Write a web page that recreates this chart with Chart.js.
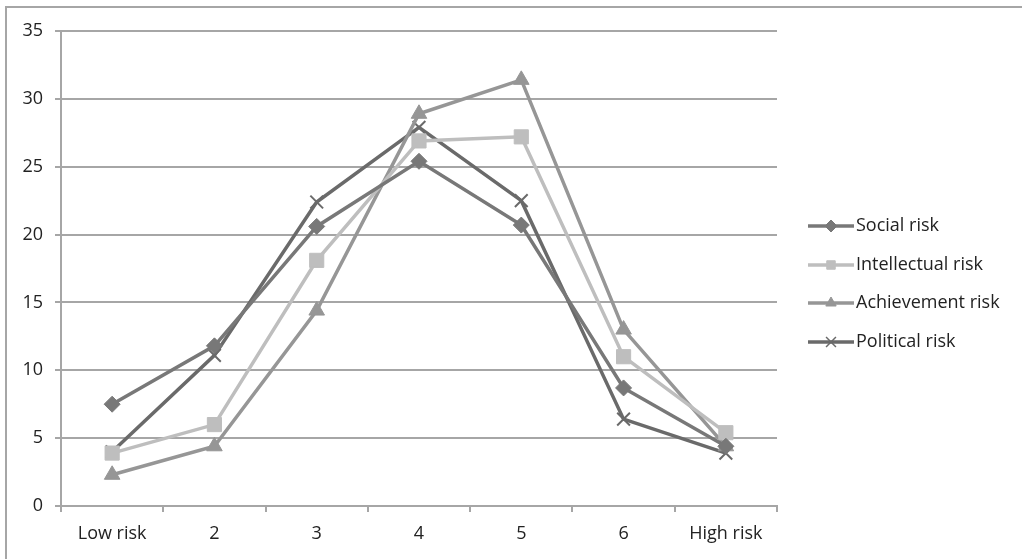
<!DOCTYPE html>
<html>
<head>
<meta charset="utf-8">
<script src="https://cdn.jsdelivr.net/npm/chart.js@4/dist/chart.umd.min.js"></script>
<style>
  html, body { margin: 0; padding: 0; background: #fff; }
  #wrap { position: relative; width: 1022px; height: 559px; }
  #frame { position: absolute; left: 5px; top: 6px; width: 1030px; height: 600px;
           border-left: 2px solid #a6a6a6; border-top: 2px solid #a6a6a6; }
  canvas { position: absolute; left: 0; top: 0; }
</style>
</head>
<body>
<div id="wrap">
  <div id="frame"></div>
  <canvas id="riskChart" width="1022" height="559"></canvas>
</div>
<script>
/* categories + series */
const categories = ['Low risk', '2', '3', '4', '5', '6', 'High risk'];

const socialRisk       = [7.5, 11.8, 20.6, 25.4, 20.7, 8.7, 4.4];
const intellectualRisk = [3.9, 6.0, 18.1, 26.9, 27.2, 11.0, 5.4];
const achievementRisk  = [2.3, 4.4, 14.4, 28.9, 31.4, 13.0, 4.4];
const politicalRisk    = [4.0, 11.1, 22.4, 27.9, 22.5, 6.4, 3.9];

const seriesNames = ['Social risk', 'Intellectual risk', 'Achievement risk', 'Political risk'];
const yTicks = [0, 5, 10, 15, 20, 25, 30, 35];

const FONT = '"Open Sans", sans-serif';
const FONT_SIZE = 18;
const TEXT = '#222222';
const GRID = '#a6a6a6';

function ds(label, data, color, style, radius) {
  return {
    label: label,
    data: data,
    borderColor: color,
    backgroundColor: color,
    pointBackgroundColor: color,
    pointBorderColor: color,
    borderWidth: 3.5,
    pointStyle: style,
    pointRadius: radius,
    pointHoverRadius: radius,
    pointBorderWidth: style === 'crossRot' ? 2 : 1,
    tension: 0,
    fill: false
  };
}

// legend drawn on the canvas: short line + marker + label, like the original
const sideLegend = {
  id: 'sideLegend',
  afterDraw(chart) {
    const c = chart.ctx;
    const rows = [226, 265, 303, 342];
    chart.data.datasets.forEach((d, i) => {
      const y = rows[i];
      c.save();
      c.strokeStyle = d.borderColor;
      c.fillStyle = d.borderColor;
      c.lineWidth = 3.5;
      c.beginPath();
      c.moveTo(808, y);
      c.lineTo(854, y);
      c.stroke();
      c.lineWidth = d.pointStyle === 'crossRot' ? 1.5 : 1;
      Chart.helpers.drawPoint(c, {
        pointStyle: d.pointStyle,
        radius: d.pointStyle === 'crossRot' ? 7 : 6,
        borderWidth: d.pointStyle === 'crossRot' ? 1.5 : 1,
        rotation: 0
      }, 831, y);
      c.fillStyle = TEXT;
      c.font = FONT_SIZE + 'px ' + FONT;
      c.textBaseline = 'middle';
      c.textAlign = 'left';
      c.fillText(d.label, 856, y);
      c.restore();
    });
  }
};

const ctx = document.getElementById('riskChart').getContext('2d');
new Chart(ctx, {
  type: 'line',
  data: {
    labels: categories,
    datasets: [
      ds(seriesNames[0], socialRisk, '#787878', 'rectRot', 8),
      ds(seriesNames[1], intellectualRisk, '#bebebe', 'rect', 10),
      ds(seriesNames[2], achievementRisk, '#969696', 'triangle', 9),
      ds(seriesNames[3], politicalRisk, '#6a6a6a', 'crossRot', 9)
    ]
  },
  options: {
    responsive: false,
    animation: false,
    layout: { padding: { left: 0, right: 245, top: 31, bottom: 0 } },
    scales: {
      x: {
        offset: true,
        grid: {
          offset: true,
          drawOnChartArea: false,
          drawTicks: true,
          tickLength: 6,
          color: GRID,
          lineWidth: 2
        },
        border: { display: true, color: GRID, width: 2 },
        ticks: { color: TEXT, font: { family: FONT, size: FONT_SIZE }, padding: 11, maxRotation: 0 },
        afterFit(s) { s.height = 53; }
      },
      y: {
        min: 0,
        max: 35,
        afterBuildTicks(s) { s.ticks = yTicks.map(v => ({ value: v })); },
        grid: { color: GRID, lineWidth: 2, tickLength: 6 },
        border: { display: true, color: GRID, width: 2 },
        ticks: { color: TEXT, font: { family: FONT, size: FONT_SIZE }, padding: 12 },
        afterFit(s) { s.width = 61; }
      }
    },
    plugins: {
      legend: { display: false },
      tooltip: { enabled: false }
    }
  },
  plugins: [sideLegend]
});
</script>
</body>
</html>
